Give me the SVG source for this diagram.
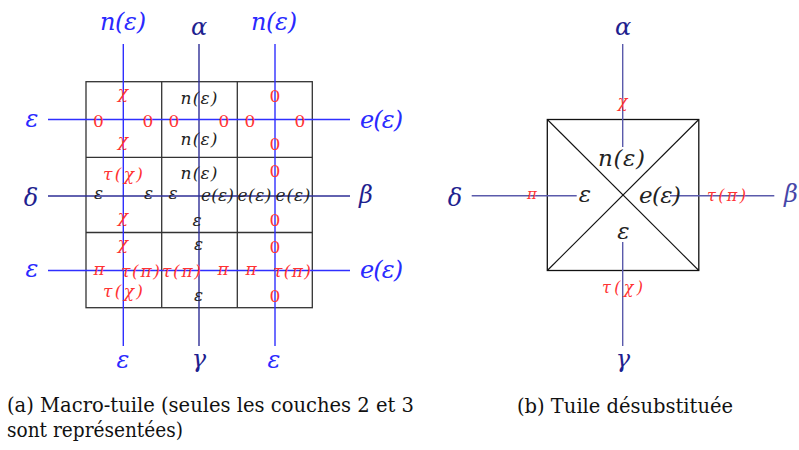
<svg xmlns="http://www.w3.org/2000/svg" width="799" height="450" viewBox="0 0 799 450">
<style>
.m{font-family:'DejaVu Serif','Liberation Serif','Noto Serif',serif;font-style:italic;text-anchor:middle}
.c{font-size:17px}
.o{font-size:24px}
.r{fill:#f33}
.k{fill:#222}
.b{fill:#2a2aff}
.n{fill:#1f1f8f}
.up{font-style:normal}
.cap{font-family:'DejaVu Serif','Liberation Serif','Noto Serif',serif;font-size:20px;fill:#111}
.grid{fill:none;stroke:#333;stroke-width:1.3}
.wb{stroke:#2f2fff;stroke-width:1.4}
.wn{stroke:#2e2e96;stroke-width:1.4}
.wn2{stroke:#5a5aab;stroke-width:1.4}
</style>
<rect width="799" height="450" fill="#fff"/>

<!-- Left: macro-tile -->
<g id="macro-tile">
  <g id="grid" class="grid">
    <rect x="86" y="81.7" width="226.3" height="226"/>
    <line x1="161.7" y1="81.7" x2="161.7" y2="307.7"/>
    <line x1="237.3" y1="81.7" x2="237.3" y2="307.7"/>
    <line x1="86" y1="157.3" x2="312.3" y2="157.3"/>
    <line x1="86" y1="232.5" x2="312.3" y2="232.5"/>
  </g>
  <g id="connectors-left">
    <line class="wb" x1="123.3" y1="44" x2="123.3" y2="346"/>
    <line class="wn" x1="199" y1="44" x2="199" y2="346"/>
    <line class="wb" x1="275" y1="44" x2="275" y2="346"/>
    <line class="wb" x1="48" y1="119.5" x2="350" y2="119.5"/>
    <line class="wn" x1="48" y1="196" x2="350" y2="196"/>
    <line class="wb" x1="48" y1="270.5" x2="350" y2="270.5"/>
  </g>
  <g id="cell-1-1" class="m c r">
    <text x="123" y="98">χ</text>
    <text x="123" y="146">χ</text>
    <text class="up" x="98.5" y="126.5">0</text>
    <text class="up" x="148" y="126.5">0</text>
  </g>
  <g id="cell-1-2" class="m c">
    <text class="k" x="199" y="104" textLength="37">n(ε)</text>
    <text class="k" x="199" y="145" textLength="37">n(ε)</text>
    <text class="r up" x="174" y="126.5">0</text>
    <text class="r up" x="224" y="126.5">0</text>
  </g>
  <g id="cell-1-3" class="m c r">
    <text class="up" x="275" y="101.5">0</text>
    <text class="up" x="275" y="150">0</text>
    <text class="up" x="250" y="126.5">0</text>
    <text class="up" x="300" y="126.5">0</text>
  </g>
  <g id="cell-2-1" class="m c">
    <text class="r" x="123" y="180" textLength="40">τ(χ)</text>
    <text class="r" x="123" y="222">χ</text>
    <text class="k" x="98.5" y="199">ε</text>
    <text class="k" x="148.5" y="199">ε</text>
  </g>
  <g id="cell-2-2" class="m c k">
    <text x="199" y="179" textLength="37">n(ε)</text>
    <text x="197" y="225.5">ε</text>
    <text x="173" y="199">ε</text>
    <text x="217.5" y="201" textLength="33">e(ε)</text>
  </g>
  <g id="cell-2-3" class="m c">
    <text class="r up" x="275" y="177">0</text>
    <text class="r up" x="275" y="226">0</text>
    <text class="k" x="254.5" y="201" textLength="34">e(ε)</text>
    <text class="k" x="293" y="201" textLength="35">e(ε)</text>
  </g>
  <g id="cell-3-1" class="m c r">
    <text x="123" y="249">χ</text>
    <text x="123" y="297" textLength="40">τ(χ)</text>
    <text x="99" y="275">π</text>
    <text x="140.5" y="277" textLength="39">τ(π)</text>
  </g>
  <g id="cell-3-2" class="m c">
    <text class="k" x="198.5" y="249.5">ε</text>
    <text class="k" x="198.5" y="300.5">ε</text>
    <text class="r" x="181.5" y="277" textLength="39">τ(π)</text>
    <text class="r" x="223" y="275">π</text>
  </g>
  <g id="cell-3-3" class="m c r">
    <text class="up" x="275" y="253">0</text>
    <text class="up" x="275" y="302">0</text>
    <text x="251" y="275">π</text>
    <text x="292" y="277" textLength="38">τ(π)</text>
  </g>
  <g id="labels-left" class="m o">
    <text class="b" x="123" y="30" textLength="46">n(ε)</text>
    <text class="n" x="199" y="35">α</text>
    <text class="b" x="274" y="30" textLength="46">n(ε)</text>
    <text class="b" x="123" y="368">ε</text>
    <text class="n" x="199" y="367">γ</text>
    <text class="b" x="274" y="368">ε</text>
    <text class="b" x="32" y="127">ε</text>
    <text class="n" x="31" y="206">δ</text>
    <text class="b" x="32" y="277">ε</text>
    <text class="b" x="381.5" y="128" textLength="43">e(ε)</text>
    <text class="n" x="366" y="203">β</text>
    <text class="b" x="381.5" y="278" textLength="43">e(ε)</text>
  </g>
</g>

<!-- Right: desubstituted tile -->
<g id="tile">
  <g id="tile-shape" class="grid" style="stroke:#111">
    <rect x="547.3" y="119.5" width="151.5" height="151"/>
    <line x1="547.3" y1="119.5" x2="698.8" y2="270.5" stroke-width="1.1"/>
    <line x1="698.8" y1="119.5" x2="547.3" y2="270.5" stroke-width="1.1"/>
  </g>
  <g id="connectors-right">
    <line class="wn2" x1="622.7" y1="44" x2="622.7" y2="147"/>
    <line class="wn2" x1="622.7" y1="242" x2="622.7" y2="346"/>
    <line class="wn2" x1="471.7" y1="195.7" x2="576.7" y2="195.7"/>
    <line class="wn2" x1="670" y1="195.7" x2="774.3" y2="195.7"/>
  </g>
  <g id="tile-labels" class="m">
    <text class="o n" x="623" y="35">α</text>
    <text class="r" style="font-size:16px" x="622.5" y="107">χ</text>
    <text class="k" style="font-size:23px" x="621.5" y="166" textLength="47">n(ε)</text>
    <text class="k" style="font-size:23px" x="585" y="202">ε</text>
    <text class="k" style="font-size:23px" x="660" y="203" textLength="42">e(ε)</text>
    <text class="k" style="font-size:23px" x="623.5" y="239">ε</text>
    <text class="r" style="font-size:16px" x="622.5" y="293" textLength="41">τ(χ)</text>
    <text class="o n" x="623" y="367">γ</text>
    <text class="o n" x="455" y="206">δ</text>
    <text class="o" style="fill:#4646a8" x="791" y="202">β</text>
    <text class="r" style="font-size:15px" x="532" y="199">π</text>
    <text class="r" style="font-size:16px" x="726.5" y="201" textLength="39">τ(π)</text>
  </g>
</g>

<g id="captions">
  <text class="cap" x="7" y="412" textLength="407" lengthAdjust="spacingAndGlyphs">(a) Macro-tuile (seules les couches 2 et 3</text>
  <text class="cap" x="7" y="437" textLength="176" lengthAdjust="spacingAndGlyphs">sont représentées)</text>
  <text class="cap" x="517" y="413" textLength="216" lengthAdjust="spacingAndGlyphs">(b) Tuile désubstituée</text>
</g>
</svg>
